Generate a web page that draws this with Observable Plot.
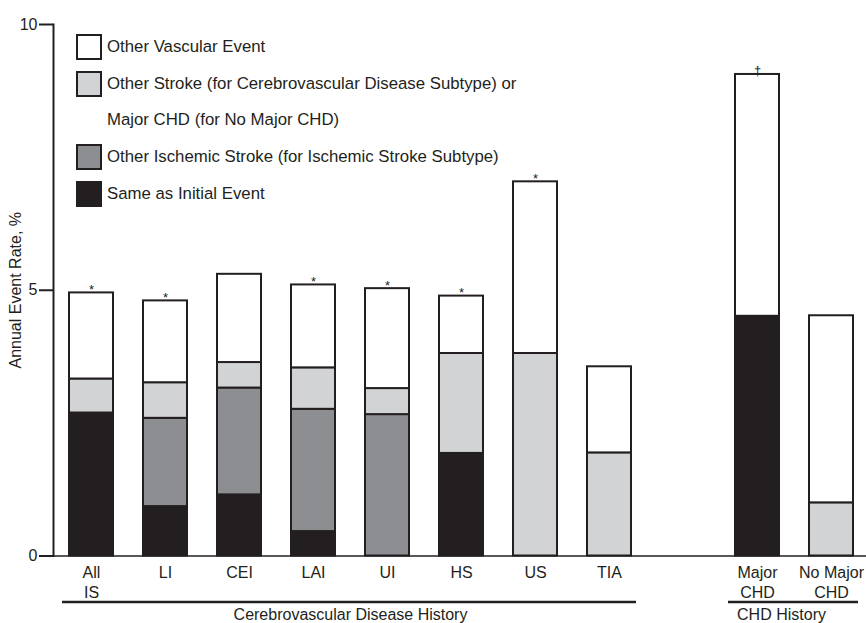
<!DOCTYPE html>
<html>
<head>
<meta charset="utf-8">
<script src="https://cdn.jsdelivr.net/npm/d3@7"></script>
<script src="https://cdn.jsdelivr.net/npm/@observablehq/plot@0.6"></script>
<style>
  body { margin: 0; background: #fff; font-family: "Liberation Sans", Arial, sans-serif; color: #231f20; }
  #wrap { position: relative; width: 866px; height: 623px; overflow: hidden; }
  #legend { position: absolute; left: 76px; top: 29px; }
  .row { display: flex; align-items: center; height: 36.6px; font-size: 16.8px; white-space: nowrap; }
  .sw { width: 22px; height: 22px; border: 2px solid #231f20; margin-right: 5px; }
  .cont { padding-left: 31px; }
</style>
</head>
<body>
<div id="wrap"><div id="chart"></div><div id="legend"></div></div>
<script>
// ---- data ----
const categories = ["All IS", "LI", "CEI", "LAI", "UI", "HS", "US", "TIA", "Major CHD", "No Major CHD"];
const xDomain = ["All IS", "LI", "CEI", "LAI", "UI", "HS", "US", "TIA", " ", "Major CHD", "No Major CHD"];
const tickLabels = ["All\nIS", "LI", "CEI", "LAI", "UI", "HS", "US", "TIA", "Major\nCHD", "No Major\nCHD"];
const yTicks = [0, 5, 10];
const series = ["Same as Initial Event", "Other Ischemic Stroke", "Other Stroke / Major CHD", "Other Vascular Event"];
const seriesColors = ["#231f20", "#8d8e91", "#d1d3d4", "#ffffff"];
const sameAsInitial = [2.69, 0.93, 1.15, 0.46, 0, 1.93, 0, 0, 4.51, 0];
const otherIschemic = [0, 1.66, 2.01, 2.30, 2.66, 0, 0, 0, 0, 0];
const otherStroke   = [0.64, 0.67, 0.48, 0.78, 0.49, 1.88, 3.81, 1.94, 0, 1.00];
const otherVascular = [1.62, 1.54, 1.66, 1.56, 1.88, 1.08, 3.23, 1.62, 4.55, 3.52];
const markers = ["*", "*", "", "*", "*", "*", "*", "", "\u2020", ""];
const groupNames = ["Cerebrovascular Disease History", "CHD History"];
const groupFirst = ["All IS", "Major CHD"];
const groupLast = ["TIA", "No Major CHD"];
const legendItems = [
  {label: "Other Vascular Event", color: "#ffffff"},
  {label: "Other Stroke (for Cerebrovascular Disease Subtype) or", color: "#d1d3d4"},
  {label: "Major CHD (for No Major CHD)", color: null},
  {label: "Other Ischemic Stroke (for Ischemic Stroke Subtype)", color: "#8d8e91"},
  {label: "Same as Initial Event", color: "#231f20"}
];

// ---- tables ----
const seriesValues = [sameAsInitial, otherIschemic, otherStroke, otherVascular];
const table = [];
categories.forEach((c, i) => series.forEach((s, j) => {
  if (seriesValues[j][i] > 0) table.push({cat: c, series: s, value: seriesValues[j][i]});
}));
const totals = categories.map((c, i) => ({cat: c, total: d3.sum(seriesValues, v => v[i]), mark: markers[i]}));
const labels = categories.map((c, i) => ({cat: c, label: tickLabels[i]}));
const groups = groupNames.map((g, i) => ({name: g, first: groupFirst[i], last: groupLast[i]}));

// x band geometry
const step = 74.38, pi = 0.4, po = 0.3;
const r0 = 89.2 - step * (po + (1 - pi) / 2);
const r1 = r0 + step * (xDomain.length - pi + 2 * po);
const ink = "#231f20";

const chart = Plot.plot({
  width: 866,
  height: 623,
  marginTop: 24,
  marginBottom: 67.5,
  marginLeft: 53,
  marginRight: 0,
  style: {fontFamily: "'Liberation Sans', Arial, sans-serif", fontSize: "15px", color: ink, background: "#fff"},
  x: {type: "band", domain: xDomain, range: [r0, r1], paddingInner: pi, paddingOuter: po, axis: null},
  y: {domain: [0, 10], axis: null},
  color: {domain: series, range: seriesColors},
  marks: [
    Plot.barY(table, {x: "cat", y: "value", fill: "series", stroke: ink, strokeWidth: 2, order: series}),
    Plot.ruleY([0], {stroke: ink, strokeWidth: 1.6}),
    Plot.frame({anchor: "left", stroke: ink, strokeWidth: 2}),
    Plot.axisY({ticks: yTicks, tickSize: 14, tickFormat: () => "", strokeWidth: 2, stroke: ink, label: null}),
    Plot.text(yTicks, {y: d => d, text: d => String(d), frameAnchor: "left", dx: -16, textAnchor: "end",
      lineAnchor: "middle", fontSize: 16, fill: ink}),
    Plot.axisY({ticks: [], label: "Annual Event Rate, %", labelAnchor: "center", labelOffset: 44, labelArrow: "none",
      fontSize: 16, fill: ink}),
    Plot.text(totals.filter(d => d.mark), {x: "cat", y: "total", text: "mark", fontSize: 13, lineAnchor: "bottom", dy: 1, fill: ink}),
    Plot.text(labels, {x: "cat", y: () => 0, text: "label", fontSize: 16, lineAnchor: "top", dy: 8, lineHeight: 1.25, fill: ink}),
    Plot.ruleY(groups, {x1: "first", x2: "last", y: () => 0, dy: 46, insetLeft: -7, insetRight: -5, stroke: ink, strokeWidth: 2.5}),
    Plot.text(groups.slice(0, 1), {x: "first", y: () => 0, text: "name", dx: 259, dy: 58.5, fontSize: 16, lineAnchor: "middle", fill: ink}),
    Plot.text(groups.slice(1), {x: "first", y: () => 0, text: "name", dx: 24, dy: 58.5, fontSize: 16, lineAnchor: "middle", fill: ink})
  ]
});
document.getElementById("chart").appendChild(chart);

// legend
const legend = document.getElementById("legend");
legendItems.forEach(d => {
  const row = document.createElement("div");
  row.className = "row" + (d.color ? "" : " cont");
  if (d.color) {
    const sw = document.createElement("div");
    sw.className = "sw";
    sw.style.background = d.color;
    row.appendChild(sw);
  }
  const t = document.createElement("span");
  t.textContent = d.label;
  row.appendChild(t);
  legend.appendChild(row);
});
</script>
</body>
</html>
